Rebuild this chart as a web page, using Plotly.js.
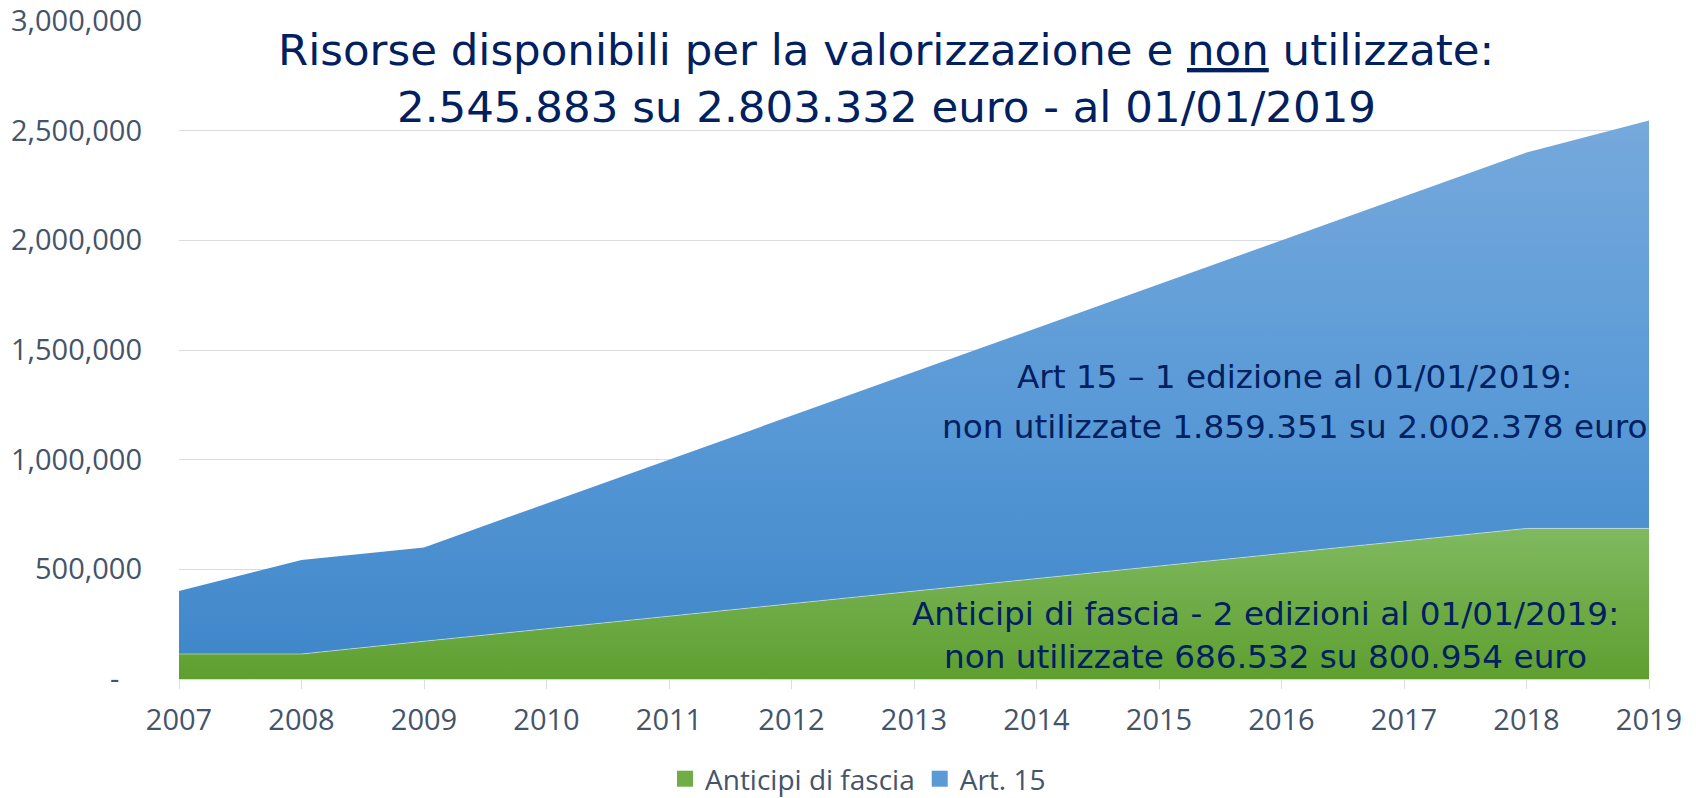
<!DOCTYPE html>
<html>
<head>
<meta charset="utf-8">
<script src="https://cdn.plot.ly/plotly-3.0.1.min.js"></script>
<style>
  html, body { margin: 0; padding: 0; background: #ffffff; }
  #chart { width: 1696px; height: 798px; }
</style>
</head>
<body>
<div id="chart"></div>
<script>
// ---- data ----
const years = [2007, 2008, 2009, 2010, 2011, 2012, 2013, 2014, 2015, 2016, 2017, 2018, 2019];
const anticipiDiFascia = [114000, 114000, 172000, 229000, 286000, 343000, 400000, 457000, 515000, 572000, 629000, 686532, 686532];
const art15 = [287000, 429000, 428000, 571000, 714000, 857000, 1000000, 1143000, 1285000, 1428000, 1571000, 1713468, 1859351];
const seriesNames = ['Anticipi di fascia', 'Art. 15'];
const yTickVals = [0, 500000, 1000000, 1500000, 2000000, 2500000, 3000000];
const yTickText = ['-\u00a0\u00a0\u00a0', '500,000', '1,000,000', '1,500,000', '2,000,000', '2,500,000', '3,000,000'];
const titleLines = [
  'Risorse disponibili per la valorizzazione e <u>non</u> utilizzate:',
  '2.545.883 su 2.803.332 euro - al 01/01/2019'
];
const art15Lines = [
  'Art 15 \u2013 1 edizione al 01/01/2019:',
  'non utilizzate 1.859.351 su 2.002.378 euro'
];
const anticipiLines = [
  'Anticipi di fascia - 2 edizioni al 01/01/2019:',
  'non utilizzate 686.532 su 800.954 euro'
];

// ---- layout geometry (pixels) ----
const W = 1696, H = 798;
const M = {l: 179, r: 47, t: 21, b: 119, autoexpand: false};
const plotW = W - M.l - M.r, plotH = H - M.t - M.b;
const px = x => (x - M.l) / plotW;
const py = y => (H - M.b - y) / plotH;

const tickColor = '#44546A';
const textColor = '#002060';
const gridColor = '#D9DDE3';
const green = '#70AD47';
const blue = '#5B9BD5';

const traces = [
  {
    x: years, y: anticipiDiFascia, name: seriesNames[0],
    type: 'scatter', mode: 'lines', stackgroup: 'one',
    line: {color: 'rgba(255,255,255,0.45)', width: 1},
    fillgradient: {type: 'vertical', start: 0, stop: 686532,
      colorscale: [[0, '#5E9F2F'], [1, '#80B960']]},
    showlegend: false, hoverinfo: 'x+y'
  },
  {
    x: years, y: art15, name: seriesNames[1],
    type: 'scatter', mode: 'lines', stackgroup: 'one',
    line: {color: 'rgba(255,255,255,0.0)', width: 0},
    fillgradient: {type: 'vertical', start: 0, stop: 2545883,
      colorscale: [[0, '#3E86C9'], [0.5, '#5A9AD7'], [1, '#76A9DC']]},
    showlegend: false, hoverinfo: 'x+y'
  },
  {
    x: [null], y: [null], name: seriesNames[0], type: 'scatter', mode: 'markers',
    marker: {symbol: 'square', size: 16, color: green}, showlegend: true
  },
  {
    x: [null], y: [null], name: seriesNames[1], type: 'scatter', mode: 'markers',
    marker: {symbol: 'square', size: 16, color: blue}, showlegend: true
  }
];

function ann(text, xPix, yPix, size) {
  return {
    text: text, xref: 'paper', yref: 'paper', x: px(xPix), y: py(yPix),
    xanchor: 'center', yanchor: 'middle', showarrow: false,
    font: {family: 'DejaVu Sans', size: size, color: textColor}
  };
}

const layout = {
  width: W, height: H,
  margin: M,
  paper_bgcolor: '#ffffff', plot_bgcolor: '#ffffff',
  showlegend: true,
  legend: {
    orientation: 'h', traceorder: 'normal',
    x: px(858), y: py(779), xanchor: 'center', yanchor: 'middle',
    font: {family: 'Open Sans', size: 28, color: tickColor},
    itemclick: false, itemdoubleclick: false
  },
  xaxis: {
    type: 'linear', range: [2007, 2019], tickvals: years,
    ticks: 'outside', ticklen: 9, tickcolor: gridColor, tickwidth: 1,
    showgrid: false, zeroline: false,
    showline: true, linecolor: gridColor, linewidth: 1,
    ticklabelstandoff: 6,
    tickfont: {family: 'Open Sans', size: 29, color: tickColor}
  },
  yaxis: {
    range: [0, 3000000], tickvals: yTickVals, ticktext: yTickText,
    ticks: '', showgrid: true, gridcolor: gridColor, gridwidth: 1,
    zeroline: false, showline: false,
    ticklabelstandoff: 36,
    tickfont: {family: 'Open Sans', size: 29, color: tickColor}
  },
  annotations: [
    ann(titleLines[0], 886, 50, 43.5),
    ann(titleLines[1], 886, 107, 43.5),
    ann(art15Lines[0], 1294, 377, 32.7),
    ann(art15Lines[1], 1294, 427, 32.7),
    ann(anticipiLines[0], 1265, 614, 32.7),
    ann(anticipiLines[1], 1265, 657, 32.7)
  ]
};

Plotly.newPlot('chart', traces, layout, {displayModeBar: false, staticPlot: true});
</script>
</body>
</html>
